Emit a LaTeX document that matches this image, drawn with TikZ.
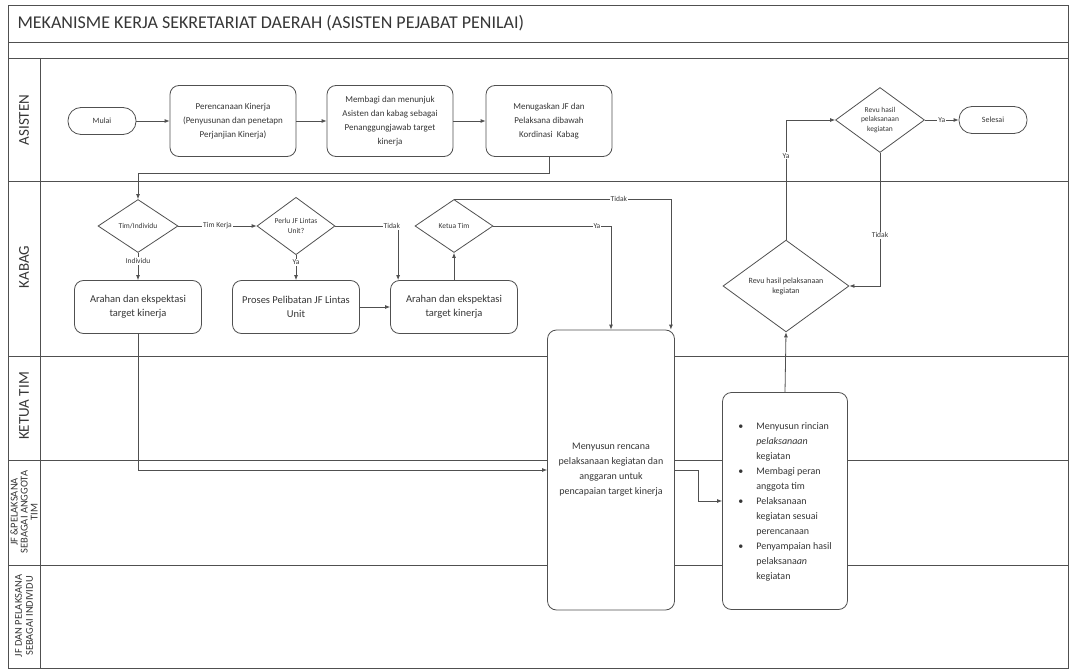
\documentclass[tikz,border=0pt]{standalone}
\usepackage{fontspec}
\setmainfont{Carlito}
\usetikzlibrary{shapes.geometric,arrows.meta}

\definecolor{ink}{HTML}{363636}
\definecolor{rule}{HTML}{505050}

\begin{document}
\begin{tikzpicture}[x=1pt,y=-1pt,
  every node/.style={text=ink},
  base/.style={draw=rule, line width=0.8pt, fill=white},
  proc/.style={base, rounded corners=9pt, align=center, inner sep=2pt},
  term/.style={base, rounded corners=13pt, minimum width=68pt, minimum height=27pt,
    font=\fontsize{8}{10}\selectfont},
  dec/.style={base, diamond, inner sep=0pt, align=center, font=\fontsize{7.5}{9.5}\selectfont},
  arr/.style={draw=rule, line width=0.8pt, -{Latex[length=5pt,width=4pt]}},
  ln/.style={draw=rule, line width=0.8pt},
  lbl/.style={fill=white, inner sep=1pt, font=\fontsize{7.5}{9}\selectfont},
  lane/.style={rotate=90, align=center, inner sep=0pt},
  top/.style={proc, minimum width=126pt, minimum height=71pt, font=\fontsize{9}{13.8}\selectfont},
  mid/.style={proc, minimum width=127pt, minimum height=53pt, font=\fontsize{10.5}{14.5}\selectfont},
]
\useasboundingbox (0,0) rectangle (1070,671);

% frame, title band and swimlanes
\draw[ln] (8,5) rectangle (1068,668);
\draw[ln] (8,42) -- (1068,42);
\foreach \yy in {58,181,356,460,565} \draw[ln] (8,\yy) -- (1068,\yy);
\draw[ln] (40,58) -- (40,668);

\node[anchor=west, font=\fontsize{18}{20}\selectfont] (title) at (14,23)
  {MEKANISME KERJA SEKRETARIAT DAERAH (ASISTEN PEJABAT PENILAI)};

\node[lane, font=\fontsize{15}{16}\selectfont] (laneA) at (24,120) {ASISTEN};
\node[lane, font=\fontsize{15}{16}\selectfont] (laneB) at (24,267) {KABAG};
\node[lane, font=\fontsize{15}{16}\selectfont] (laneC) at (24,406) {KETUA TIM};
\node[lane, font=\fontsize{10.5}{10}\selectfont] (laneD) at (24,512)
  {JF \&PELAKSANA\\SEBAGAI ANGGOTA\\TIM};
\node[lane, font=\fontsize{10.5}{11}\selectfont] (laneE) at (24,616)
  {JF DAN PELAKSANA\\SEBAGAI INDIVIDU};

% ASISTEN
\node[term] (mulai) at (102,121) {Mulai};
\node[top] (plan) at (233,121) {Perencanaan Kinerja\\(Penyusunan dan penetapn\\Perjanjian Kinerja)};
\node[top] (bagi) at (390,121) {Membagi dan menunjuk\\Asisten dan kabag sebagai\\Penanggungjawab target\\kinerja};
\node[top] (tugas) at (549,121) {Menugaskan JF dan\\Pelaksana dibawah\\Kordinasi\ \ Kabag};
\node[dec, minimum width=89pt, minimum height=65pt] (revuA) at (880,120) {Revu hasil\\pelaksanaan\\kegiatan};
\node[term] (selesai) at (993,120) {Selesai};

% KABAG
\node[dec, minimum width=80pt, minimum height=53pt] (timind) at (138,226) {Tim/Individu};
\node[dec, minimum width=78pt, minimum height=53pt] (perlu) at (296,226) {Perlu JF Lintas\\Unit?};
\node[dec, minimum width=78pt, minimum height=53pt] (ketua) at (454,226) {Ketua Tim};
\node[mid] (arahA) at (138,307) {Arahan dan ekspektasi\\target kinerja};
\node[mid] (proses) at (296,307) {Proses Pelibatan JF Lintas\\Unit};
\node[mid] (arahB) at (454,307) {Arahan dan ekspektasi\\target kinerja};
\node[dec, minimum width=126pt, minimum height=82pt, font=\fontsize{8}{10}\selectfont] (revuB) at (786,286)
  {Revu hasil pelaksanaan\\kegiatan};

% tall process boxes
\node[proc, minimum width=127pt, minimum height=280pt, font=\fontsize{10}{15}\selectfont] (susun) at (611,470)
  {Menyusun rencana\\pelaksanaan kegiatan dan\\anggaran untuk\\pencapaian target kinerja};
\node[proc, minimum width=125pt, minimum height=217pt, font=\fontsize{10}{15}\selectfont] (rinci) at (785,501)
  {\begin{tabular}{@{}p{18pt}@{}l@{}}
   \textbullet & Menyusun rincian\\
   & \textit{pelaksanaan}\\
   & kegiatan\\
   \textbullet & Membagi peran\\
   & anggota tim\\
   \textbullet & Pelaksanaan\\
   & kegiatan sesuai\\
   & perencanaan\\
   \textbullet & Penyampaian hasil\\
   & pelaksana\textit{an}\\
   & kegiatan
   \end{tabular}};

% connectors
\draw[arr] (mulai.east) -- (plan.west);
\draw[arr] (plan.east) -- (bagi.west);
\draw[arr] (bagi.east) -- (tugas.west);
\draw[arr] (tugas.south) -- ++(0,17) -| (timind.north);
\draw[arr] (timind.east) -- node[lbl]{Tim Kerja} (perlu.west);
\draw[arr] (timind.south) -- node[lbl, pos=0.3]{Individu} (arahA.north);
\draw[arr] (perlu.south) -- node[lbl, pos=0.3]{Ya} (proses.north);
\draw[arr] (perlu.east) -| node[lbl, pos=0.45]{Tidak} ([xshift=8pt]arahB.north west);
\draw[arr] (proses.east) -- (arahB.west);
\draw[arr] (arahB.north) -- (ketua.south);
\draw[arr] (ketua.east) -| node[lbl, pos=0.44]{Ya} (susun.north);
\draw[arr] (ketua.north) -| node[lbl, pos=0.38]{Tidak} ([xshift=-4pt]susun.north east);
\draw[arr] (arahA.south) |- (susun.west);
\draw[arr] (susun.east) -- ++(23,0) |- (rinci.west);
\draw[arr] (rinci.north) -- (revuB.south);
\draw[arr] (revuB.north) |- node[lbl, pos=0.35]{Ya} (revuA.west);
\draw[arr] (revuA.south) |- node[lbl, pos=0.31]{Tidak} (revuB.east);
\draw[arr] (revuA.east) -- node[lbl]{Ya} (selesai.west);
\end{tikzpicture}
\end{document}
